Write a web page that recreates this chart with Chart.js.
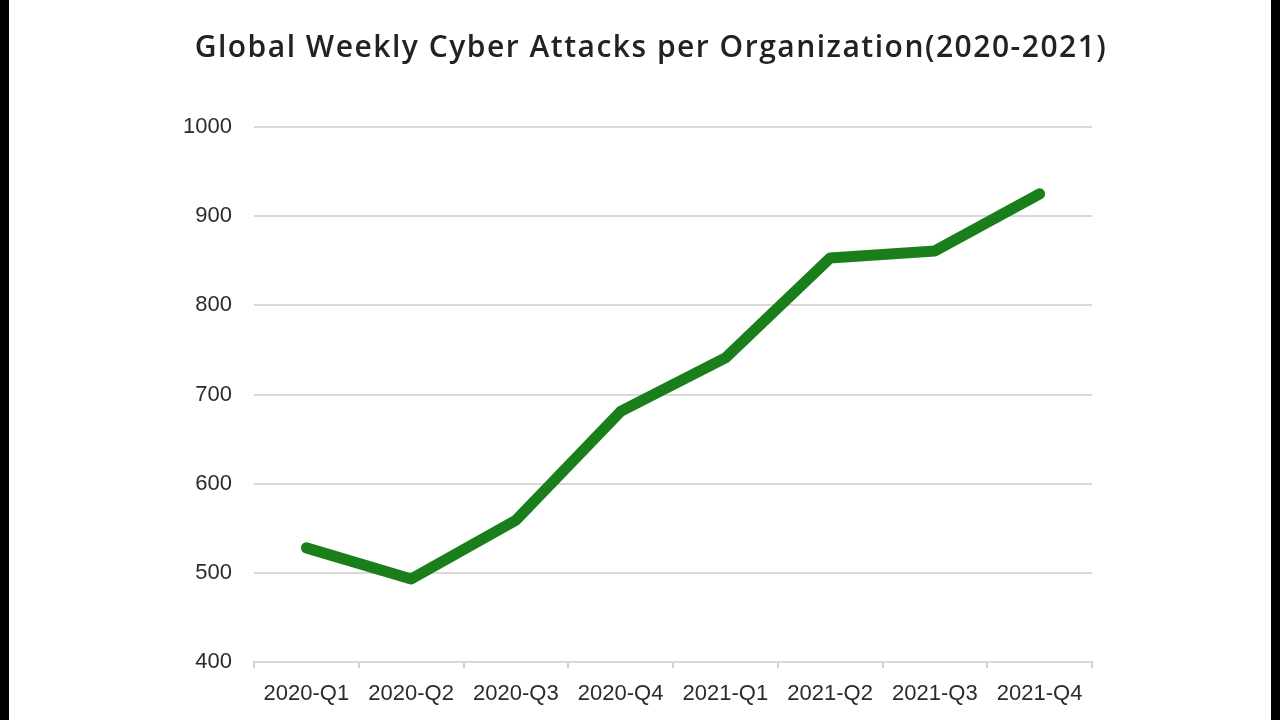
<!DOCTYPE html>
<html>
<head>
<meta charset="utf-8">
<script src="https://cdn.jsdelivr.net/npm/chart.js@4.4.1/dist/chart.umd.min.js"></script>
<style>
  html, body { margin: 0; padding: 0; background: #000; width: 1280px; height: 720px; overflow: hidden; }
  #wrap { position: absolute; left: 9px; top: 0; width: 1262px; height: 720px; background: #fff; }
  canvas { display: block; }
</style>
</head>
<body>
<div id="wrap"><canvas id="c" width="1262" height="720"></canvas></div>
<script>
const categories = ["2020-Q1", "2020-Q2", "2020-Q3", "2020-Q4", "2021-Q1", "2021-Q2", "2021-Q3", "2021-Q4"];
const attacksPerOrg = [528, 493, 559, 681, 741, 853, 861, 925];
const yTicks = [400, 500, 600, 700, 800, 900, 1000];
const titleText = "Global Weekly Cyber Attacks per Organization(2020-2021)";

const titlePlugin = {
  id: "customTitle",
  afterDraw(chart) {
    const ctx = chart.ctx;
    ctx.save();
    ctx.font = "600 30px 'Open Sans', sans-serif";
    ctx.fillStyle = "#222222";
    ctx.textAlign = "center";
    ctx.textBaseline = "alphabetic";
    try { ctx.letterSpacing = "1.5px"; } catch (e) {}
    ctx.fillText(titleText, 642, 57);
    ctx.restore();
  }
};

new Chart(document.getElementById("c"), {
  type: "line",
  data: {
    labels: categories,
    datasets: [{
      data: attacksPerOrg,
      borderColor: "#1a7f1a",
      borderWidth: 11,
      borderCapStyle: "round",
      borderJoinStyle: "round",
      pointRadius: 0,
      tension: 0,
      fill: false
    }]
  },
  plugins: [titlePlugin],
  options: {
    responsive: false,
    animation: false,
    layout: { padding: { left: 0, right: 179, top: 127, bottom: 0 } },
    plugins: {
      legend: { display: false },
      tooltip: { enabled: false },
      title: { display: false }
    },
    scales: {
      x: {
        offset: true,
        grid: { display: true, drawOnChartArea: false, drawTicks: true, tickLength: 6, offset: true, color: "#d0d0d0", lineWidth: 2 },
        border: { display: true, color: "#d9d9d9", width: 2 },
        ticks: { color: "#2b2b2b", padding: 13, font: { family: "'Liberation Sans', sans-serif", size: 22 }, maxRotation: 0 },
        afterFit: (s) => { s.height = 58; }
      },
      y: {
        min: 400,
        max: 1000,
        afterBuildTicks: (s) => { s.ticks = yTicks.map(v => ({ value: v })); },
        grid: { color: "#d9d9d9", lineWidth: 2, drawTicks: false },
        border: { display: false },
        ticks: { color: "#2b2b2b", padding: 22, font: { family: "'Liberation Sans', sans-serif", size: 22 }, callback: (v) => String(v) },
        afterFit: (s) => { s.width = 245; }
      }
    }
  }
});
</script>
</body>
</html>
